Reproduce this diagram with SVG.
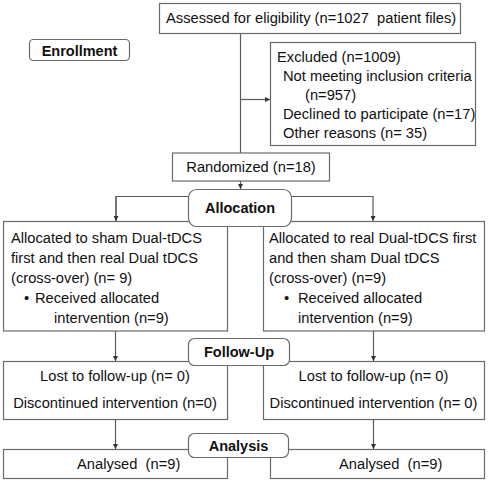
<svg xmlns="http://www.w3.org/2000/svg" width="490" height="485" viewBox="0 0 490 485">
<defs>
<style>
.box{fill:#fff;stroke:#6a6a6a;stroke-width:1.2}
.lbl{fill:#fff;stroke:#6a6a6a;stroke-width:1.2}
.ln{fill:none;stroke:#5a5a5a;stroke-width:1.2}
.t{font-family:"Liberation Sans",Arial,sans-serif;font-size:14.7px;fill:#111;white-space:pre}
.b{font-family:"Liberation Sans",Arial,sans-serif;font-size:14.5px;font-weight:bold;fill:#111}
.c{text-anchor:middle}
</style>
<marker id="ah" viewBox="0 0 6 6" refX="6" refY="3" markerWidth="5" markerHeight="5" markerUnits="userSpaceOnUse" orient="auto">
<path d="M0,0 L6,3 L0,6 Z" fill="#333"/>
</marker>
</defs>
<rect width="490" height="485" fill="#fff"/>
<g id="connectors">
<line class="ln" x1="240.5" y1="33.5" x2="240.5" y2="153"/>
<line class="ln" x1="240.5" y1="99.5" x2="270" y2="99.5" marker-end="url(#ah)"/>
<line class="ln" x1="240.5" y1="181" x2="240.5" y2="189" marker-end="url(#ah)"/>
<polyline class="ln" points="116,221 116,196.5 373,196.5 373,221" marker-end="url(#ah)"/>
<line class="ln" x1="116" y1="196.5" x2="116" y2="221" marker-end="url(#ah)"/>
<line class="ln" x1="115.5" y1="331" x2="115.5" y2="361" marker-end="url(#ah)"/>
<line class="ln" x1="373.5" y1="331" x2="373.5" y2="361" marker-end="url(#ah)"/>
<line class="ln" x1="115.5" y1="419" x2="115.5" y2="449" marker-end="url(#ah)"/>
<line class="ln" x1="373.5" y1="419" x2="373.5" y2="449" marker-end="url(#ah)"/>
</g>
<g id="assessed">
<rect class="box" x="159.5" y="3.5" width="301" height="30"/>
<text class="t" x="166" y="23" xml:space="preserve">Assessed for eligibility (n=1027  patient files)</text>
</g>
<g id="enrollment">
<rect class="lbl" x="29.5" y="39.5" width="100" height="21" rx="4"/>
<text class="b c" x="79.5" y="55.5">Enrollment</text>
</g>
<g id="excluded">
<rect class="box" x="270.5" y="42.5" width="205" height="103"/>
<text class="t" x="277" y="62">Excluded (n=1009)</text>
<text class="t" x="283" y="81">Not meeting inclusion criteria</text>
<text class="t" x="305" y="100">(n=957)</text>
<text class="t" x="283" y="118.5">Declined to participate (n=17)</text>
<text class="t" x="283" y="137.5">Other reasons (n= 35)</text>
</g>
<g id="randomized">
<rect class="box" x="172.5" y="153" width="157" height="28"/>
<text class="t c" x="251" y="172">Randomized (n=18)</text>
</g>
<g id="left-alloc">
<rect class="box" x="3.5" y="221.5" width="224" height="109.5"/>
<text class="t" x="11" y="243">Allocated to sham Dual-tDCS</text>
<text class="t" x="11" y="263">first and then real Dual tDCS</text>
<text class="t" x="11" y="283">(cross-over) (n= 9)</text>
<text class="t" x="24" y="303">•</text>
<text class="t" x="35" y="303">Received allocated</text>
<text class="t" x="54" y="323">intervention (n=9)</text>
</g>
<g id="right-alloc">
<rect class="box" x="263.5" y="221.5" width="221" height="109.5"/>
<text class="t" x="269" y="243">Allocated to real Dual-tDCS first</text>
<text class="t" x="269" y="263">and then sham Dual tDCS</text>
<text class="t" x="269" y="283">(cross-over) (n=9)</text>
<text class="t" x="284" y="303">•</text>
<text class="t" x="298" y="303">Received allocated</text>
<text class="t" x="298" y="323">intervention (n=9)</text>
</g>
<g id="allocation">
<rect class="lbl" x="188.5" y="189.5" width="103" height="37" rx="8"/>
<text class="b c" x="240" y="213">Allocation</text>
</g>
<g id="left-follow">
<rect class="box" x="3.5" y="361.5" width="224" height="58"/>
<text class="t c" x="115" y="381">Lost to follow-up (n= 0)</text>
<text class="t c" x="115" y="408">Discontinued intervention (n=0)</text>
</g>
<g id="right-follow">
<rect class="box" x="263.5" y="361.5" width="221" height="58"/>
<text class="t c" x="373.5" y="381">Lost to follow-up (n= 0)</text>
<text class="t c" x="373.5" y="408">Discontinued intervention (n= 0)</text>
</g>
<g id="followup">
<rect class="lbl" x="188.5" y="338.5" width="101" height="27" rx="6"/>
<text class="b c" x="239" y="356.5">Follow-Up</text>
</g>
<g id="left-analysed">
<rect class="box" x="3.5" y="449.5" width="224" height="29"/>
<text class="t" x="77" y="469" xml:space="preserve">Analysed  (n=9)</text>
</g>
<g id="right-analysed">
<rect class="box" x="270.5" y="449.5" width="214" height="29"/>
<text class="t" x="339" y="469" xml:space="preserve">Analysed  (n=9)</text>
</g>
<g id="analysis">
<rect class="lbl" x="188.5" y="433.5" width="100" height="24" rx="6"/>
<text class="b c" x="238.5" y="450.5">Analysis</text>
</g>
</svg>
